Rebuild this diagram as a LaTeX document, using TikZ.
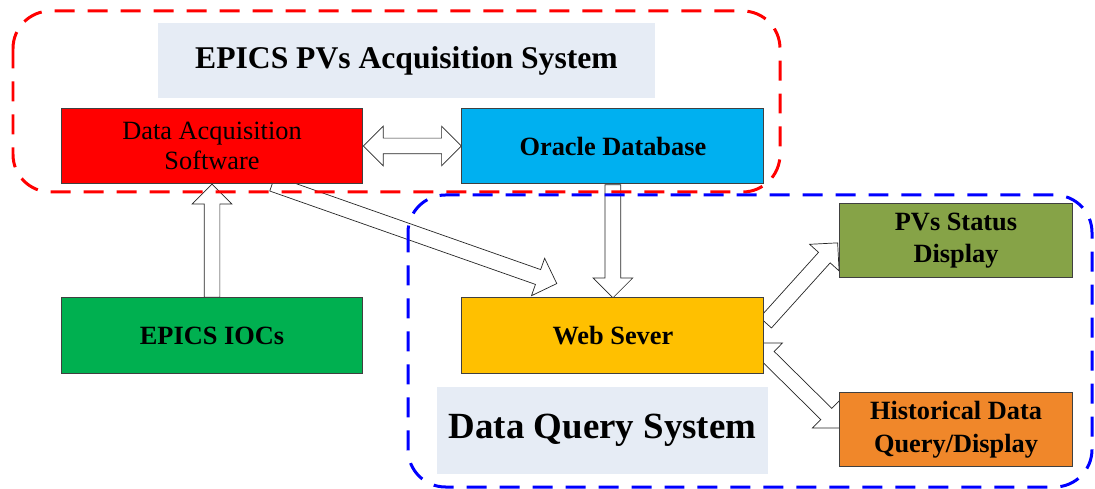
\documentclass[tikz,border=0pt]{standalone}
\usepackage{fontspec}
\setmainfont{Liberation Serif}
\usetikzlibrary{shapes.arrows,positioning,calc}
\definecolor{DaqRed}{RGB}{255,0,0}
\definecolor{OraBlue}{RGB}{0,176,240}
\definecolor{IocGreen}{RGB}{0,176,80}
\definecolor{WebGold}{RGB}{255,192,0}
\definecolor{PvOlive}{RGB}{134,163,71}
\definecolor{HistOrange}{RGB}{240,135,42}
\definecolor{TitleBg}{RGB}{230,236,245}
\definecolor{FrameRed}{RGB}{255,0,0}
\definecolor{FrameBlue}{RGB}{0,0,255}
\pgfdeclarelayer{back}
\pgfsetlayers{back,main}
\newcommand{\blockarrow}[2]{%
  \path let \p1=($(#2)-(#1)$), \n1={veclen(\x1,\y1)}, \n2={atan2(\y1,\x1)} in
    node[barrow, minimum height=\n1, rotate=\n2, anchor=tail] at (#1) {};}
\newcommand{\twowayarrow}[2]{%
  \path let \p1=($(#2)-(#1)$), \n1={veclen(\x1,\y1)}, \n2={atan2(\y1,\x1)} in
    node[darrow, minimum height=\n1, rotate=\n2] at ($(#1)!0.5!(#2)$) {};}
\tikzset{
  sysbox/.style={rectangle,draw=black!75,line width=0.02cm,
                 minimum width=6.04cm,minimum height=1.52cm,align=center,
                 inner sep=2pt,font=\fontsize{15}{17.5}\selectfont\bfseries},
  outbox/.style={sysbox,minimum width=4.68cm,minimum height=1.5cm,
                 font=\fontsize{15}{18.5}\selectfont\bfseries},
  titlebox/.style={rectangle,fill=TitleBg,inner sep=0pt},
  barrow/.style={single arrow,draw=black!85,fill=white,line width=0.4pt,
                 inner xsep=0pt,inner ysep=0.15cm,single arrow head extend=0.24cm},
  darrow/.style={double arrow,draw=black!85,fill=white,line width=0.4pt,
                 inner xsep=0pt,inner ysep=0.15cm,double arrow head extend=0.24cm},
  sysframe/.style={line width=0.06cm,rounded corners=0.75cm,
                   dash pattern=on 0.4cm off 0.26cm},
}
\begin{document}
\begin{tikzpicture}[x=0.02cm,y=-0.02cm]
  \useasboundingbox (0,0) rectangle (1095,489);
  % title boxes
  \node[titlebox,minimum width=9.94cm,minimum height=1.5cm,
        font=\fontsize{18}{20}\selectfont\bfseries] (acqtitle) at (406.5,60.5)
        {EPICS PVs Acquisition System};
  \node[titlebox,minimum width=6.62cm,minimum height=1.74cm,
        font=\fontsize{21}{24}\selectfont\bfseries] (qrytitle) at (602.5,430.5)
        {Data Query System};
  % system blocks
  \node[sysbox,fill=DaqRed,font=\fontsize{15}{17.5}\selectfont] (das) at (212,146)
        {Data Acquisition\\Software};
  \node[sysbox,fill=OraBlue,right=1.96cm of das] (oracle) {Oracle Database};
  \node[sysbox,fill=IocGreen,below=2.26cm of das] (iocs) {EPICS IOCs};
  \node[sysbox,fill=WebGold,below=2.26cm of oracle] (web) {Web Sever};
  \node[outbox,fill=PvOlive] (pvs) at (956,240.5) {PVs Status\\Display};
  \node[outbox,fill=HistOrange] (hist) at (956,429.5) {Historical Data\\Query/Display};
  % arrow ends
  \coordinate (daqtail) at ($(das.south)+(60,-1)$);
  \coordinate (webtip) at ($(web.north west)+(95,-14)$);
  \coordinate (pvtail) at ($(web.east)+(1,-13)$);
  \coordinate (pvtip) at ($(pvs.west)+(-1,2.5)$);
  \coordinate (histend) at ($(hist.west)+(2,-1.5)$);
  \coordinate (webend) at ($(web.east)+(-10,7)$);
  \begin{pgfonlayer}{back}
    \twowayarrow{das.east}{oracle.west}
    \blockarrow{iocs.north}{das.south}
    \blockarrow{oracle.south}{web.north}
    \blockarrow{daqtail}{webtip}
    \blockarrow{pvtail}{pvtip}
    \twowayarrow{webend}{histend}
  \end{pgfonlayer}
  % dashed system frames
  \draw[sysframe,FrameRed] (13,11) rectangle (780,192);
  \draw[sysframe,FrameBlue] (408,195) rectangle (1092,487);
\end{tikzpicture}
\end{document}
